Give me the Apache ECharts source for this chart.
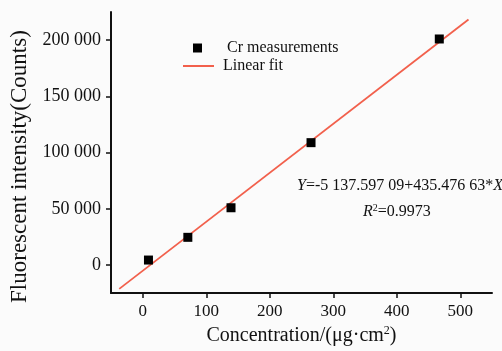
<!DOCTYPE html>
<html>
<head>
<meta charset="utf-8">
<script src="https://cdn.jsdelivr.net/npm/echarts@6/dist/echarts.min.js"></script>
<style>
  html, body { margin: 0; padding: 0; background: #fbfbfb; }
  #chart { width: 502px; height: 351px; }
</style>
</head>
<body>
<div id="chart"></div>
<script>
// measured points (concentration, counts)
const concentration = [9, 71, 139, 265, 467];
const counts = [4400, 24600, 50900, 108800, 201000];

// ends of the fitted line as drawn
const fitX = [-37, 513];
const fitY = [-21250, 218270];

const xTicks = [0, 100, 200, 300, 400, 500];
const yTicks = [0, 50000, 100000, 150000, 200000];
const yTickLabels = ['0', '50 000', '100 000', '150 000', '200 000'];

const serif = '"Liberation Serif", "DejaVu Serif", serif';
const ink = '#111';

const chart = echarts.init(document.getElementById('chart'));

const axisCommon = {
    axisLine: { show: true, onZero: false, lineStyle: { color: ink, width: 2 } },
    axisTick: { show: true, inside: false, length: 5, lineStyle: { color: ink, width: 1.5 } },
    splitLine: { show: false },
};

chart.setOption({
    backgroundColor: '#fbfbfb',
    animation: false,
    grid: { left: 111, right: 10, top: 12, bottom: 56 },
    legend: [
        {
            data: [{ name: 'Cr measurements', icon: 'rect' }],
            left: 188, top: 35,
            itemWidth: 9, itemHeight: 9,
            textStyle: { fontFamily: serif, fontSize: 16, color: ink, padding: [0, 0, 0, 20] }
        },
        {
            data: [{ name: 'Linear fit', icon: 'rect' }],
            left: 178, top: 53,
            itemWidth: 31, itemHeight: 2,
            textStyle: { fontFamily: serif, fontSize: 16, color: ink, padding: [0, 0, 0, 4] }
        }
    ],
    xAxis: Object.assign({}, axisCommon, {
        type: 'value',
        min: -50, max: 550,
        name: '{a|Concentration/(μg·cm}{s|2}{a|)}',
        nameLocation: 'middle',
        nameGap: 30,
        nameTextStyle: {
            rich: {
                a: { fontFamily: serif, fontSize: 20, color: ink },
                s: { fontFamily: serif, fontSize: 12, color: ink, verticalAlign: 'top', padding: [0, 0, 10, 0] }
            }
        },
        axisTick: Object.assign({}, axisCommon.axisTick, { customValues: xTicks }),
        axisLabel: {
            customValues: xTicks,
            margin: 10,
            fontFamily: serif, fontSize: 17, color: ink
        }
    }),
    yAxis: Object.assign({}, axisCommon, {
        type: 'value',
        min: -25000, max: 225000,
        name: 'Fluorescent intensity(Counts)',
        nameLocation: 'middle',
        nameGap: 80,
        nameTextStyle: { fontFamily: serif, fontSize: 23, color: ink, padding: [0, 28, 0, 0] },
        axisTick: Object.assign({}, axisCommon.axisTick, { customValues: yTicks }),
        axisLabel: {
            customValues: yTicks,
            margin: 10,
            fontFamily: serif, fontSize: 18, color: ink,
            formatter: v => yTickLabels[yTicks.indexOf(v)]
        }
    }),
    series: [
        {
            name: 'Linear fit',
            type: 'line',
            data: fitX.map((x, i) => [x, fitY[i]]),
            showSymbol: false,
            itemStyle: { color: '#f2604c' },
            lineStyle: { color: '#f2604c', width: 1.8 },
            z: 2
        },
        {
            name: 'Cr measurements',
            type: 'scatter',
            data: concentration.map((x, i) => [x, counts[i]]),
            symbol: 'rect',
            symbolSize: 9,
            itemStyle: { color: '#000', opacity: 1 },
            z: 3
        }
    ],
    graphic: [
        {
            type: 'text', left: 297, top: 178,
            style: {
                text: '{i|Y}{n|=-5 137.597 09+435.476 63*}{i|X}',
                rich: {
                    i: { fontFamily: serif, fontSize: 16, fontStyle: 'italic', fill: ink },
                    n: { fontFamily: serif, fontSize: 16, fill: ink }
                }
            }
        },
        {
            type: 'text', left: 363, top: 203,
            style: {
                text: '{i|R}{s|2}{n|=0.9973}',
                rich: {
                    i: { fontFamily: serif, fontSize: 16, fontStyle: 'italic', fill: ink },
                    s: { fontFamily: serif, fontSize: 10, fill: ink, verticalAlign: 'top', padding: [0, 0, 8, 0] },
                    n: { fontFamily: serif, fontSize: 16, fill: ink }
                }
            }
        }
    ]
});
</script>
</body>
</html>
